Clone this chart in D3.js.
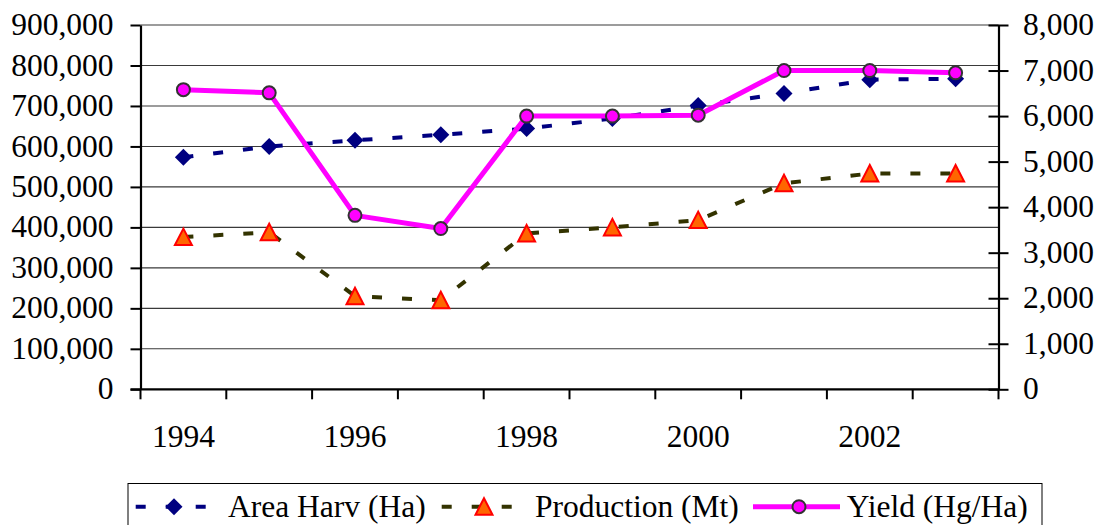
<!DOCTYPE html>
<html>
<head>
<meta charset="utf-8">
<script src="https://cdn.jsdelivr.net/npm/d3@7"></script>
</head>
<body style="margin:0">
<svg id="chart" width="1098" height="525"></svg>
<script>
const years = [1994, 1995, 1996, 1997, 1998, 1999, 2000, 2001, 2002, 2003];
const yearLabels = ["1994", "", "1996", "", "1998", "", "2000", "", "2002", ""];
const areaHarv = [573000, 600000, 615000, 629000, 644000, 669000, 701000, 731000, 765000, 767000];
const production = [376000, 388000, 230000, 220000, 385000, 400000, 418000, 509000, 533000, 533000];
const yieldHgHa = [6580, 6510, 3820, 3530, 6000, 6000, 6020, 7000, 7000, 6950];
const leftTicks = [0, 100000, 200000, 300000, 400000, 500000, 600000, 700000, 800000, 900000];
const rightTicks = [0, 1000, 2000, 3000, 4000, 5000, 6000, 7000, 8000];
const seriesNames = ["Area Harv (Ha)", "Production (Mt)", "Yield (Hg/Ha)"];

(function () {
const svg = d3.select("#chart");
const pL = 140.5, pR = 998.5, pT = 25, pB = 389.3;
const FS = "31.5px";
const FF = "Liberation Serif";
const styleText = sel => sel.attr("font-family", FF).attr("font-size", FS).attr("fill", "#000")
  .style("font-family", '"Liberation Serif"').style("font-size", FS);
const fmt = d3.format(",");

const x = d3.scaleBand().domain(years).range([pL, pR]).padding(0);
const yL = d3.scaleLinear().domain([0, 900000]).range([pB, pT]);
const yR = d3.scaleLinear().domain([0, 8000]).range([pB, pT]);
const cx = d => x(d) + x.bandwidth() / 2;

// gridlines
svg.append("g").selectAll("line").data(leftTicks.filter(d => d > 0)).join("line")
  .attr("x1", pL).attr("x2", pR)
  .attr("y1", d => yL(d)).attr("y2", d => yL(d))
  .attr("stroke", "#3a3a3a").attr("stroke-width", 1.1);

// left axis (lines via d3 axis, labels as root-level text)
const gL = svg.append("g").attr("transform", `translate(${pL},0)`)
  .call(d3.axisLeft(yL).tickValues(leftTicks).tickSize(10).tickSizeOuter(0).tickFormat(""));
gL.select(".domain").attr("stroke", "#000").attr("stroke-width", 2.2);
gL.selectAll(".tick line").attr("stroke", "#000").attr("stroke-width", 2);
gL.selectAll(".tick text").remove();
svg.selectAll("text.yl").data(leftTicks).join("text").attr("class", "yl")
  .attr("x", pL - 27).attr("y", d => yL(d)).attr("dy", "0.32em").attr("text-anchor", "end")
  .call(styleText).text(d => fmt(d));

// right axis
const gR = svg.append("g").attr("transform", `translate(${pR},0)`)
  .call(d3.axisRight(yR).tickValues(rightTicks).tickSize(10).tickSizeOuter(0).tickFormat(""));
gR.select(".domain").attr("stroke", "#000").attr("stroke-width", 2.2);
gR.selectAll(".tick line").attr("x1", -10).attr("x2", 10).attr("stroke", "#000").attr("stroke-width", 2);
gR.selectAll(".tick text").remove();
svg.selectAll("text.yr").data(rightTicks).join("text").attr("class", "yr")
  .attr("x", pR + 24.5).attr("y", d => yR(d)).attr("dy", "0.32em").attr("text-anchor", "start")
  .call(styleText).text(d => fmt(d));

// bottom axis
const gB = svg.append("g");
gB.append("line").attr("x1", pL - 10).attr("x2", pR).attr("y1", pB).attr("y2", pB)
  .attr("stroke", "#000").attr("stroke-width", 2.2);
const edges = years.map(d => x(d)).concat([x(years[years.length - 1]) + x.bandwidth()]);
gB.selectAll("line.tk").data(edges).join("line").attr("class", "tk")
  .attr("x1", d => d).attr("x2", d => d).attr("y1", pB).attr("y2", pB + 10)
  .attr("stroke", "#000").attr("stroke-width", 2);
svg.selectAll("text.xl").data(years.filter((d, i) => yearLabels[i] !== "")).join("text").attr("class", "xl")
  .attr("x", d => cx(d)).attr("y", 446.7).attr("text-anchor", "middle")
  .call(styleText).text(d => yearLabels[years.indexOf(d)]);

// shapes
const diamondPath = r => `M0,${-r}L${r},0L0,${r}L${-r},0Z`;
const trianglePath = `M0,-8.5L8.5,8L-8.5,8Z`;

const lineL = d3.line().x((d, i) => cx(years[i])).y(d => yL(d));
const lineR = d3.line().x((d, i) => cx(years[i])).y(d => yR(d));

svg.append("path").datum(areaHarv).attr("d", lineL)
  .attr("fill", "none").attr("stroke", "#000080").attr("stroke-width", 4)
  .attr("stroke-dasharray", "10,20");
svg.append("path").datum(production).attr("d", lineL)
  .attr("fill", "none").attr("stroke", "#333300").attr("stroke-width", 4)
  .attr("stroke-dasharray", "10,20");

svg.append("g").selectAll("path").data(areaHarv).join("path")
  .attr("transform", (d, i) => `translate(${cx(years[i])},${yL(d)})`)
  .attr("d", diamondPath(8.5)).attr("fill", "#000080");
svg.append("g").selectAll("path").data(production).join("path")
  .attr("transform", (d, i) => `translate(${cx(years[i])},${yL(d)})`)
  .attr("d", trianglePath).attr("fill", "#FF6600").attr("stroke", "#FF0000").attr("stroke-width", 2);

svg.append("path").datum(yieldHgHa).attr("d", lineR)
  .attr("fill", "none").attr("stroke", "#FF00FF").attr("stroke-width", 5).attr("stroke-linejoin", "round");
svg.append("g").selectAll("circle").data(yieldHgHa).join("circle")
  .attr("cx", (d, i) => cx(years[i])).attr("cy", d => yR(d)).attr("r", 6.5)
  .attr("fill", "#FF00FF").attr("stroke", "#333").attr("stroke-width", 2);

// legend
const lg = svg.append("g");
lg.append("rect").attr("x", 128).attr("y", 483.5).attr("width", 914).attr("height", 60)
  .attr("fill", "#fff").attr("stroke", "#000").attr("stroke-width", 1);
const ly = 506.7, lty = 516.7;
lg.append("line").attr("x1", 135.7).attr("x2", 207).attr("y1", ly).attr("y2", ly)
  .attr("stroke", "#000080").attr("stroke-width", 4).attr("stroke-dasharray", "10,20");
lg.append("path").attr("transform", `translate(174,${ly})`).attr("d", diamondPath(8.5)).attr("fill", "#000080");
lg.append("line").attr("x1", 441.7).attr("x2", 513).attr("y1", ly).attr("y2", ly)
  .attr("stroke", "#333300").attr("stroke-width", 4).attr("stroke-dasharray", "10,20");
lg.append("path").attr("transform", `translate(484,${ly})`).attr("d", trianglePath)
  .attr("fill", "#FF6600").attr("stroke", "#FF0000").attr("stroke-width", 2);
lg.append("line").attr("x1", 753).attr("x2", 840).attr("y1", ly).attr("y2", ly)
  .attr("stroke", "#FF00FF").attr("stroke-width", 5);
lg.append("circle").attr("cx", 799).attr("cy", ly).attr("r", 6.5)
  .attr("fill", "#FF00FF").attr("stroke", "#333").attr("stroke-width", 2);
const legendX = [228, 535, 846.7];
svg.selectAll("text.lg").data(seriesNames).join("text").attr("class", "lg")
  .attr("x", (d, i) => legendX[i]).attr("y", lty)
  .call(styleText).text(d => d);
})();
</script>
</body>
</html>
